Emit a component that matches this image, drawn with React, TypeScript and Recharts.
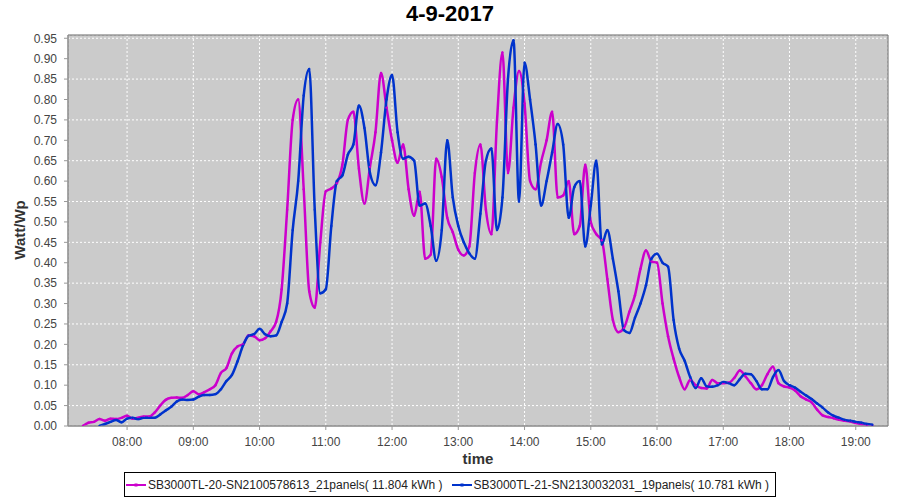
import { CartesianGrid, Line, LineChart, ReferenceArea, XAxis, YAxis } from 'recharts'

const times = [
  '07:20', '07:25', '07:30', '07:35', '07:40', '07:45', '07:50', '07:55',
  '08:00', '08:05', '08:10', '08:15', '08:20', '08:25', '08:30', '08:35', '08:40', '08:45', '08:50', '08:55',
  '09:00', '09:05', '09:10', '09:15', '09:20', '09:25', '09:30', '09:35', '09:40', '09:45', '09:50', '09:55',
  '10:00', '10:05', '10:10', '10:15', '10:20', '10:25', '10:30', '10:35', '10:40', '10:45', '10:50', '10:55',
  '11:00', '11:05', '11:10', '11:15', '11:20', '11:25', '11:30', '11:35', '11:40', '11:45', '11:50', '11:55',
  '12:00', '12:05', '12:10', '12:15', '12:20', '12:25', '12:30', '12:35', '12:40', '12:45', '12:50', '12:55',
  '13:00', '13:05', '13:10', '13:15', '13:20', '13:25', '13:30', '13:35', '13:40', '13:45', '13:50', '13:55',
  '14:00', '14:05', '14:10', '14:15', '14:20', '14:25', '14:30', '14:35', '14:40', '14:45', '14:50', '14:55',
  '15:00', '15:05', '15:10', '15:15', '15:20', '15:25', '15:30', '15:35', '15:40', '15:45', '15:50', '15:55',
  '16:00', '16:05', '16:10', '16:15', '16:20', '16:25', '16:30', '16:35', '16:40', '16:45', '16:50', '16:55',
  '17:00', '17:05', '17:10', '17:15', '17:20', '17:25', '17:30', '17:35', '17:40', '17:45', '17:50', '17:55',
  '18:00', '18:05', '18:10', '18:15', '18:20', '18:25', '18:30', '18:35', '18:40', '18:45', '18:50', '18:55',
  '19:00', '19:05', '19:10', '19:15',
]

// SB3000TL-20 (magenta)
const inverter20 = [
  0.0, 0.008, 0.01, 0.017, 0.013, 0.018, 0.017, 0.02,
  0.025, 0.018, 0.02, 0.023, 0.023, 0.033, 0.05, 0.064, 0.069, 0.07, 0.069, 0.076,
  0.085, 0.078, 0.083, 0.09, 0.1, 0.13, 0.142, 0.178, 0.195, 0.2, 0.222, 0.22,
  0.21, 0.215, 0.232, 0.255, 0.335, 0.53, 0.75, 0.8, 0.58, 0.33, 0.29, 0.45,
  0.575, 0.582, 0.595, 0.64, 0.75, 0.77, 0.63, 0.545, 0.635, 0.72, 0.865, 0.78,
  0.7, 0.645, 0.69, 0.58, 0.515, 0.574, 0.41, 0.42, 0.655, 0.61, 0.51, 0.475,
  0.432, 0.418, 0.44, 0.62, 0.69, 0.53, 0.47, 0.745, 0.915, 0.62, 0.78, 0.87,
  0.79, 0.6, 0.58, 0.647, 0.7, 0.77, 0.56, 0.565, 0.6, 0.47, 0.49, 0.64,
  0.5, 0.47, 0.455, 0.36, 0.26, 0.23, 0.24, 0.28, 0.32, 0.385, 0.43, 0.403,
  0.4, 0.3, 0.22, 0.165, 0.12, 0.09, 0.113, 0.1, 0.093, 0.092, 0.113, 0.105,
  0.105, 0.106, 0.118, 0.136, 0.122, 0.105, 0.09, 0.1, 0.127, 0.145, 0.105, 0.097,
  0.094, 0.087, 0.073, 0.065, 0.058, 0.04, 0.026, 0.022, 0.019, 0.015, 0.013, 0.011,
  0.007, 0.005, 0.003, 0.002,
]

// SB3000TL-21 (blue)
const inverter21 = [
  null, null, null, 0.0, 0.005, 0.01, 0.015, 0.009,
  0.018, 0.02, 0.017, 0.02, 0.02, 0.02, 0.028, 0.038, 0.047, 0.06, 0.065, 0.064,
  0.065, 0.072, 0.076, 0.076, 0.078, 0.09, 0.11, 0.125, 0.158, 0.197, 0.221, 0.225,
  0.238, 0.225, 0.22, 0.222, 0.255, 0.3, 0.48, 0.6, 0.81, 0.875, 0.53, 0.325,
  0.335, 0.49, 0.6, 0.614, 0.665, 0.69, 0.785, 0.73, 0.62, 0.59, 0.67, 0.8,
  0.86, 0.72, 0.655, 0.66, 0.65, 0.54, 0.545, 0.49, 0.405, 0.48, 0.7, 0.56,
  0.49, 0.45, 0.423, 0.41, 0.52, 0.65, 0.68, 0.48, 0.56, 0.85, 0.945, 0.55,
  0.89, 0.8, 0.69, 0.54, 0.6, 0.67, 0.74, 0.69, 0.51, 0.585, 0.6, 0.44,
  0.54, 0.65, 0.445, 0.48, 0.41, 0.33, 0.235, 0.228, 0.265, 0.3, 0.345, 0.41,
  0.422, 0.4, 0.39, 0.26, 0.19, 0.16, 0.12, 0.093, 0.117, 0.097, 0.096, 0.1,
  0.108, 0.105, 0.1, 0.115, 0.128, 0.127, 0.11, 0.09, 0.09, 0.12, 0.137, 0.11,
  0.1, 0.094, 0.084, 0.075, 0.066, 0.055, 0.045, 0.033, 0.025, 0.02, 0.015, 0.013,
  0.01, 0.008, 0.005, 0.003,
]

const hourTicks = ['08:00', '09:00', '10:00', '11:00', '12:00', '13:00', '14:00', '15:00', '16:00', '17:00', '18:00', '19:00']
const valueTicks = [0, 0.05, 0.1, 0.15, 0.2, 0.25, 0.3, 0.35, 0.4, 0.45, 0.5, 0.55, 0.6, 0.65, 0.7, 0.75, 0.8, 0.85, 0.9, 0.95]

const series = [
  { key: 'inv20', name: 'SB3000TL-20-SN2100578613_21panels( 11.804 kWh )', color: '#CC00CC' },
  { key: 'inv21', name: 'SB3000TL-21-SN2130032031_19panels( 10.781 kWh )', color: '#0033CC' },
]

const toMinutes = (t: string) => {
  const [h, m] = t.split(':').map(Number)
  return h * 60 + m
}
const fmtTime = (v: number) => `${String(Math.floor(v / 60)).padStart(2, '0')}:${String(v % 60).padStart(2, '0')}`

const data = times.map((t, i) => ({
  minute: toMinutes(t),
  inv20: inverter20[i],
  inv21: inverter21[i],
}))

const FONT = "'Liberation Sans', Arial, sans-serif"
const X_DOMAIN: [number, number] = [426.5, 1169.2]
const Y_DOMAIN: [number, number] = [0, 0.958]

function LegendIcon({ color }: { color: string }) {
  return (
    <svg width={20} height={10} style={{ marginRight: 2 }}>
      <line x1={0} y1={5} x2={20} y2={5} stroke={color} strokeWidth={2} />
      <rect x={8.5} y={3.5} width={3} height={3} fill={color} />
    </svg>
  )
}

export default function App() {
  return (
    <div style={{ position: 'absolute', left: 0, top: 0, width: 900, height: 500, background: '#fff', fontFamily: FONT }}>
      <div style={{ position: 'absolute', top: 0, left: 0, width: 900, height: 28, lineHeight: '28px', textAlign: 'center', fontSize: 22, fontWeight: 'bold', color: '#000' }}>
        4-9-2017
      </div>
      <LineChart width={900} height={500} data={data} margin={{ top: 35, right: 12, bottom: 34, left: 0 }}>
        <CartesianGrid stroke="#fff" strokeDasharray="2 2" fill="#CBCBCB" fillOpacity={1} />
        <XAxis
          dataKey="minute"
          type="number"
          domain={X_DOMAIN}
          allowDataOverflow
          ticks={hourTicks.map(toMinutes)}
          tickFormatter={fmtTime}
          height={40}
          tickSize={4}
          tickMargin={7}
          stroke="#999"
          tick={{ fill: '#444', fontSize: 12, fontFamily: FONT }}
          label={{ value: 'time', position: 'insideBottom', offset: 2, fill: '#333', fontSize: 15, fontWeight: 'bold', fontFamily: FONT }}
        />
        <YAxis
          type="number"
          domain={Y_DOMAIN}
          allowDataOverflow
          ticks={valueTicks}
          tickFormatter={(v: number) => v.toFixed(2)}
          width={68}
          tickSize={4}
          tickMargin={7}
          stroke="#999"
          tick={{ fill: '#444', fontSize: 12, fontFamily: FONT }}
          label={{
            content: () => (
              <text x={21} y={230} transform="rotate(-90 21 230)" textAnchor="middle" dominantBaseline="middle" fill="#333" fontSize={15} fontWeight="bold" fontFamily={FONT}>
                Watt/Wp
              </text>
            ),
          }}
        />
        <ReferenceArea x1={X_DOMAIN[0]} x2={X_DOMAIN[1]} y1={Y_DOMAIN[0]} y2={Y_DOMAIN[1]} fill="none" stroke="#666" strokeWidth={1} />
        {series.map((s) => (
          <Line
            key={s.key}
            dataKey={s.key}
            name={s.name}
            type="monotone"
            stroke={s.color}
            strokeWidth={2.5}
            dot={{ r: 1.2, fill: s.color, stroke: 'none' }}
            connectNulls={false}
            isAnimationActive={false}
          />
        ))}
      </LineChart>
      <div style={{ position: 'absolute', top: 472, left: 0, width: 900, display: 'flex', justifyContent: 'center' }}>
        <div style={{ border: '1px solid #000', height: 23, padding: '0 6px 0 1px', display: 'flex', alignItems: 'center', fontSize: 12, color: '#222', whiteSpace: 'pre' }}>
          {series.map((s, i) => (
            <span key={s.key} style={{ display: 'flex', alignItems: 'center', marginLeft: i === 0 ? 0 : 9 }}>
              <LegendIcon color={s.color} />
              {s.name}
            </span>
          ))}
        </div>
      </div>
    </div>
  )
}
